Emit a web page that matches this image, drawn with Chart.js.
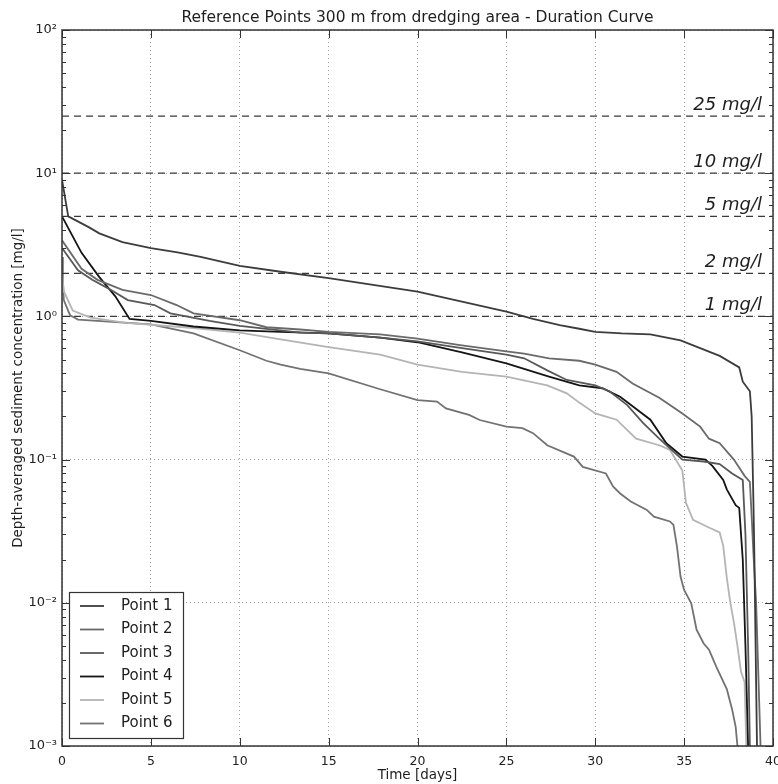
<!DOCTYPE html>
<html>
<head>
<meta charset="utf-8">
<title>Duration Curve</title>
<script src="https://cdn.jsdelivr.net/npm/chart.js@4.4.1/dist/chart.umd.min.js"></script>
<style>
  html, body { margin: 0; padding: 0; background: #fff; }
  #graph { display: block; }
</style>
</head>
<body>
<canvas id="graph" width="778" height="784"></canvas>
<script>
// ---------- Values (days, mg/l) ----------

const p1Days = [0, 0.35, 1.5, 2.1, 3.4, 5.0, 6.5, 7.8, 10.0, 12.3, 15.0, 17.5, 20.0, 22.5, 25.0, 26.5, 28.0, 29.1, 30.0, 31.5, 33.1, 34.8, 35.9, 37.0, 38.1, 38.3, 38.7, 38.8, 38.9, 38.95, 39.1];
const p1Conc = [9.0, 5.0, 4.2, 3.8, 3.3, 3.0, 2.8, 2.6, 2.25, 2.05, 1.85, 1.66, 1.49, 1.27, 1.08, 0.96, 0.87, 0.82, 0.78, 0.76, 0.75, 0.68, 0.60, 0.53, 0.44, 0.35, 0.30, 0.2, 0.05, 0.022, 0.001];

const p2Days = [0, 1.1, 2.0, 3.4, 5.0, 6.45, 7.4, 10.0, 11.5, 13.4, 15.0, 17.9, 20.0, 22.4, 25.0, 26.0, 27.4, 29.1, 30.0, 31.2, 32.1, 33.6, 34.9, 35.9, 36.4, 37.0, 37.8, 38.4, 38.7, 38.8, 38.9, 39.05, 39.3];
const p2Conc = [3.4, 2.15, 1.8, 1.53, 1.41, 1.20, 1.05, 0.94, 0.84, 0.81, 0.78, 0.75, 0.70, 0.63, 0.57, 0.55, 0.51, 0.49, 0.46, 0.41, 0.34, 0.27, 0.21, 0.17, 0.14, 0.13, 0.10, 0.077, 0.07, 0.04, 0.022, 0.01, 0.001];

const p3Days = [0, 0.9, 1.7, 2.6, 3.7, 5.2, 6.1, 8.3, 10.0, 13.4, 15.0, 17.9, 20.0, 22.5, 25.0, 26.0, 27.3, 28.4, 30.0, 30.8, 31.8, 32.7, 33.6, 34.2, 34.9, 36.1, 37.0, 37.7, 38.3, 38.45, 38.6, 38.7];
const p3Conc = [3.0, 2.1, 1.8, 1.57, 1.30, 1.2, 1.05, 0.93, 0.86, 0.77, 0.76, 0.71, 0.67, 0.60, 0.54, 0.51, 0.42, 0.36, 0.33, 0.30, 0.24, 0.18, 0.14, 0.12, 0.10, 0.097, 0.093, 0.08, 0.072, 0.03, 0.005, 0.001];

const p4Days = [0, 1.1, 2.1, 3.0, 3.8, 5.0, 7.4, 10.0, 12.3, 15.0, 17.9, 20.0, 22.5, 25.0, 27.4, 29.1, 30.4, 31.4, 33.1, 34.0, 34.9, 36.2, 36.6, 37.2, 37.4, 37.9, 38.1, 38.3, 38.45, 38.6];
const p4Conc = [5.0, 2.78, 1.88, 1.38, 0.96, 0.93, 0.85, 0.80, 0.78, 0.76, 0.71, 0.66, 0.56, 0.47, 0.38, 0.33, 0.315, 0.275, 0.19, 0.13, 0.105, 0.10, 0.09, 0.072, 0.062, 0.048, 0.046, 0.02, 0.005, 0.001];

const p5Days = [0, 0.1, 0.6, 1.6, 3.6, 7.4, 10.0, 12.3, 15.0, 17.9, 20.0, 22.5, 25.0, 27.3, 28.4, 29.1, 30.0, 31.2, 32.3, 33.6, 34.2, 34.9, 35.1, 35.5, 36.3, 37.0, 37.2, 37.4, 37.6, 37.8, 38.0, 38.2, 38.4, 38.5];
const p5Conc = [2.0, 1.5, 1.1, 0.98, 0.90, 0.83, 0.77, 0.69, 0.61, 0.54, 0.46, 0.41, 0.38, 0.33, 0.29, 0.25, 0.21, 0.19, 0.14, 0.126, 0.117, 0.084, 0.05, 0.038, 0.034, 0.031, 0.025, 0.015, 0.010, 0.0073, 0.005, 0.0033, 0.0028, 0.001];

const p6Days = [0, 0.05, 0.1, 0.45, 0.9, 5.0, 7.4, 10.0, 11.5, 12.3, 13.4, 15.0, 17.9, 20.0, 21.1, 21.6, 22.9, 23.5, 25.0, 25.9, 26.5, 27.3, 28.8, 29.3, 30.6, 31.0, 31.4, 32.0, 32.9, 33.3, 34.2, 34.4, 34.6, 34.8, 35.0, 35.4, 35.7, 36.1, 36.4, 36.8, 37.4, 37.7, 37.9, 38.0];
const p6Conc = [2.6, 1.8, 1.3, 1.02, 0.95, 0.88, 0.76, 0.58, 0.49, 0.46, 0.43, 0.40, 0.31, 0.26, 0.254, 0.228, 0.205, 0.189, 0.170, 0.166, 0.153, 0.126, 0.105, 0.089, 0.080, 0.065, 0.058, 0.051, 0.0445, 0.040, 0.037, 0.035, 0.0246, 0.0152, 0.0123, 0.0099, 0.0065, 0.0052, 0.0047, 0.0036, 0.0025, 0.0018, 0.00136, 0.001];

const seriesNames = ["Point 1", "Point 2", "Point 3", "Point 4", "Point 5", "Point 6"];
const thresholds = [25, 10, 5, 2, 1];
const thresholdLabels = ["25 mg/l", "10 mg/l", "5 mg/l", "2 mg/l", "1 mg/l"];
const xTicks = [0, 5, 10, 15, 20, 25, 30, 35, 40];
const yTicks = [0.001, 0.01, 0.1, 1, 10, 100];
const yTickLabels = ["10⁻³", "10⁻²", "10⁻¹", "10⁰", "10¹", "10²"];

// styles (gray shades of the original)
const seriesColors = ["#3c3c3c", "#6a6a6a", "#585858", "#141414", "#b4b4b4", "#727272"];

const FONT = "'DejaVu Sans', 'Liberation Sans', sans-serif";
Chart.defaults.font.family = FONT;
Chart.defaults.color = "#222";

// ---------- Datasets ----------

function points(days, conc) {
  return days.map((d, i) => ({ x: d, y: conc[i] }));
}

const curves = [
  [p1Days, p1Conc], [p2Days, p2Conc], [p3Days, p3Conc],
  [p4Days, p4Conc], [p5Days, p5Conc], [p6Days, p6Conc],
];

const datasets = curves.map((c, i) => ({
  label: seriesNames[i],
  data: points(c[0], c[1]),
  borderColor: seriesColors[i],
  borderWidth: 1.8,
}));

thresholds.forEach((t, i) => {
  datasets.push({
    label: thresholdLabels[i],
    data: [{ x: xTicks[0], y: t }, { x: xTicks[xTicks.length - 1], y: t }],
    borderColor: "#3a3a3a",
    borderWidth: 1.3,
    borderDash: [7, 5],
  });
});

// ---------- Decorations: titles, ticks, frame, threshold labels, legend ----------

const decorations = {
  id: "decorations",
  afterDraw(chart) {
    const ctx = chart.ctx;
    const a = chart.chartArea;
    const ys = chart.scales.y;
    const xs = chart.scales.x;
    ctx.save();

    // minor and major tick marks, inside the frame
    ctx.strokeStyle = "#333";
    ctx.lineWidth = 1;
    ctx.beginPath();
    for (let e = -3; e < 2; e++) {
      for (let m = 2; m < 10; m++) {
        const y = Math.round(ys.getPixelForValue(m * Math.pow(10, e))) + 0.5;
        ctx.moveTo(a.left, y); ctx.lineTo(a.left + 4, y);
        ctx.moveTo(a.right, y); ctx.lineTo(a.right - 4, y);
      }
    }
    yTicks.forEach(v => {
      const y = Math.round(ys.getPixelForValue(v)) + 0.5;
      ctx.moveTo(a.left, y); ctx.lineTo(a.left + 8, y);
      ctx.moveTo(a.right, y); ctx.lineTo(a.right - 8, y);
    });
    xTicks.forEach(v => {
      const x = Math.round(xs.getPixelForValue(v)) + 0.5;
      ctx.moveTo(x, a.bottom); ctx.lineTo(x, a.bottom - 8);
      ctx.moveTo(x, a.top); ctx.lineTo(x, a.top + 8);
    });
    ctx.stroke();

    // frame
    ctx.lineWidth = 1.5;
    ctx.strokeStyle = "#333";
    ctx.strokeRect(a.left, a.top, a.right - a.left, a.bottom - a.top);

    // threshold labels
    ctx.fillStyle = "#1e1e1e";
    ctx.font = "italic 18px " + FONT;
    ctx.textAlign = "right";
    ctx.textBaseline = "alphabetic";
    thresholds.forEach((t, i) => {
      ctx.fillText(thresholdLabels[i], a.right - 11, ys.getPixelForValue(t) - 6);
    });

    // titles
    ctx.textAlign = "center";
    ctx.textBaseline = "middle";
    ctx.font = "15.5px " + FONT;
    ctx.fillText("Reference Points 300 m from dredging area - Duration Curve", (a.left + a.right) / 2, 18);
    ctx.font = "13.5px " + FONT;
    ctx.fillText("Time [days]", (a.left + a.right) / 2, 775);
    ctx.save();
    ctx.translate(18, (a.top + a.bottom) / 2);
    ctx.rotate(-Math.PI / 2);
    ctx.fillText("Depth-averaged sediment concentration [mg/l]", 0, 0);
    ctx.restore();

    // legend box in the lower left corner
    const bx = a.left + 7, bw = 114, bh = 146;
    const by = a.bottom - 8 - bh;
    ctx.fillStyle = "#fff";
    ctx.fillRect(bx, by, bw, bh);
    ctx.lineWidth = 1.2;
    ctx.strokeStyle = "#333";
    ctx.strokeRect(bx + 0.5, by + 0.5, bw, bh);
    ctx.font = "15px " + FONT;
    ctx.textAlign = "left";
    seriesNames.forEach((name, i) => {
      const yy = by + 14 + i * 23.5;
      ctx.strokeStyle = seriesColors[i];
      ctx.lineWidth = 1.8;
      ctx.beginPath();
      ctx.moveTo(bx + 11, yy); ctx.lineTo(bx + 35, yy);
      ctx.stroke();
      ctx.fillStyle = "#1e1e1e";
      ctx.fillText(name, bx + 52, yy);
    });

    ctx.restore();
  }
};

// ---------- Chart ----------

new Chart(document.getElementById("graph"), {
  type: "line",
  data: { datasets },
  options: {
    responsive: false,
    animation: false,
    layout: { padding: { top: 30, right: 5, left: 0, bottom: 0 } },
    plugins: { legend: { display: false }, tooltip: { enabled: false } },
    elements: { point: { radius: 0 }, line: { tension: 0 } },
    scales: {
      x: {
        type: "linear",
        min: 0,
        max: 40,
        afterBuildTicks: s => { s.ticks = xTicks.map(v => ({ value: v })); },
        afterFit: s => { s.height = 38; s.paddingLeft = 0; s.paddingRight = 0; },
        grid: { color: "#a0a0a0", lineWidth: 1, drawTicks: false },
        border: { display: false, dash: [1, 3] },
        ticks: { padding: 8, color: "#222", font: { size: 12.5 }, maxRotation: 0, autoSkip: false },
      },
      y: {
        type: "logarithmic",
        min: 0.001,
        max: 100,
        afterBuildTicks: s => { s.ticks = yTicks.map(v => ({ value: v })); },
        afterFit: s => { s.width = 62; s.paddingTop = 0; s.paddingBottom = 0; },
        grid: { color: "#a0a0a0", lineWidth: 1, drawTicks: false },
        border: { display: false, dash: [1, 3] },
        ticks: {
          padding: 5,
          color: "#222",
          font: { size: 13 },
          autoSkip: false,
          callback: v => yTickLabels[Math.round(Math.log10(v)) + 3],
        },
      },
    },
  },
  plugins: [decorations],
});
</script>
</body>
</html>
